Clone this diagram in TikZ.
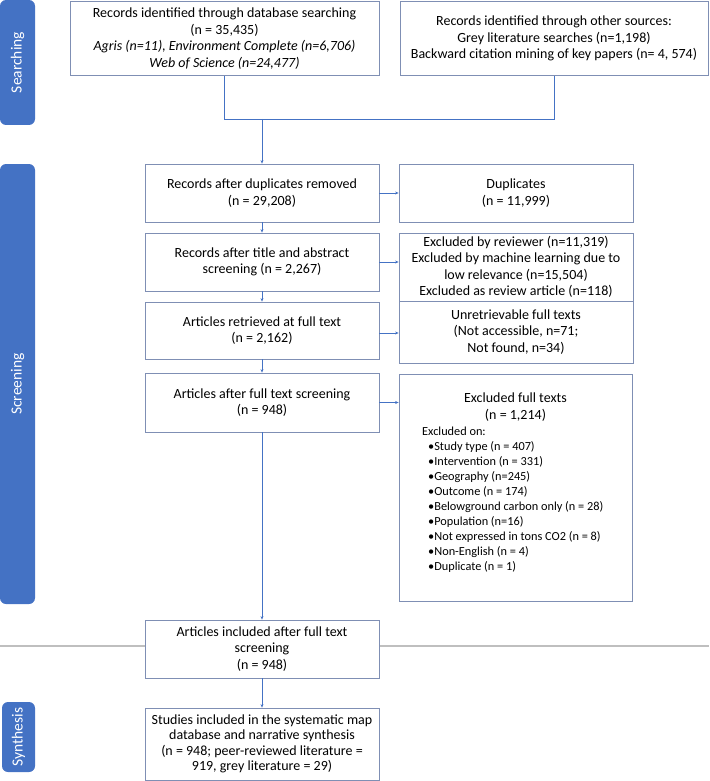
\documentclass[tikz,border=0pt]{standalone}
\usepackage{fontspec}
\setmainfont{Carlito}
\usetikzlibrary{arrows.meta}
\definecolor{boxc}{RGB}{127,143,180}
\definecolor{linec}{RGB}{68,114,196}
\definecolor{tabc}{RGB}{68,114,196}
\definecolor{sepc}{RGB}{191,191,191}
\begin{document}
\begin{tikzpicture}[x=1pt,y=-1pt,
  box/.style={draw=boxc, line width=0.8pt, fill=white, inner sep=0pt, align=center,
    font=\fontsize{14}{16.5}\selectfont},
  plain/.style={inner sep=0pt, align=center, font=\fontsize{14}{16.5}\selectfont},
  conn/.style={draw=linec, line width=0.6pt},
  arr/.style={conn, -{Stealth[length=3.5pt,width=3pt]}},
  tab/.style={fill=tabc, rounded corners=6pt, text=white, rotate=90, inner sep=0pt,
    font=\fontsize{15.5}{17}\selectfont}]
\useasboundingbox (0,0) rectangle (709,781);

% section separator
\coordinate (sepL) at (0,646);
\coordinate (sepR) at (709,646);
\draw[sepc, line width=2pt] (sepL) -- (sepR);

% tabs
\node[tab, minimum width=125pt, minimum height=35pt] (tabS) at (17.5,62.5) {Searching};
\node[tab, minimum width=440pt, minimum height=35pt] (tabR) at (17.5,384) {Screening};
\node[tab, minimum width=70pt, minimum height=33pt] (tabY) at (18.5,737) {Synthesis};

% searching boxes
\node[box, minimum width=309pt, minimum height=74pt] (s1) at (224.5,38.5)
  {Records identified through database searching\\(n = 35,435)\\
   \textit{Agris (n=11), Environment Complete (n=6,706)}\\
   \textit{Web of Science (n=24,477)}};
\node[box, minimum width=308pt, minimum height=74pt] (s2) at (554,38.5)
  {Records identified through other sources:\\Grey literature searches (n=1,198)\\
   Backward citation mining of key papers (n= 4, 574)};

% screening boxes
\node[box, minimum width=234pt, minimum height=58pt] (A) at (262,193)
  {Records after duplicates removed\\(n = 29,208)};
\node[box, minimum width=234pt, minimum height=58pt] (dup) at (516,193)
  {Duplicates\\(n = 11,999)};
\node[box, minimum width=234pt, minimum height=58pt] (B) at (262,262)
  {Records after title and abstract\\screening (n = 2,267)};
\node[box, minimum width=234pt, minimum height=68pt] (exc) at (516,267)
  {Excluded by reviewer (n=11,319)\\Excluded by machine learning due to\\
   low relevance (n=15,504)\\Excluded as review article (n=118)};
\node[box, minimum width=234pt, minimum height=57pt] (C) at (262,330.5)
  {Articles retrieved at full text\\(n = 2,162)};
\node[box, minimum width=234pt, minimum height=62pt] (unr) at (516,332)
  {Unretrievable full texts\\(Not accessible, n=71;\\Not found, n=34)};
\node[box, minimum width=234pt, minimum height=59pt] (D) at (262,402.5)
  {Articles after full text screening\\(n = 948)};
\node[box, minimum width=233pt, minimum height=227pt] (ft) at (515.5,487.5) {};
\node[plain] (ftt) at (515.5,407) {Excluded full texts\\(n = 1,214)};
\node[inner sep=0pt, anchor=north west, align=left,
      font=\fontsize{12.3}{15}\selectfont] (ftl) at (422,427)
  {Excluded on:\\
   \hspace*{6pt}•Study type (n = 407)\\
   \hspace*{6pt}•Intervention (n = 331)\\
   \hspace*{6pt}•Geography (n=245)\\
   \hspace*{6pt}•Outcome (n = 174)\\
   \hspace*{6pt}•Belowground carbon only (n = 28)\\
   \hspace*{6pt}•Population (n=16)\\
   \hspace*{6pt}•Not expressed in tons CO2 (n = 8)\\
   \hspace*{6pt}•Non-English (n = 4)\\
   \hspace*{6pt}•Duplicate (n = 1)};

% included / synthesis
\node[box, minimum width=234pt, minimum height=58pt] (inc) at (262,649)
  {Articles included after full text\\screening\\(n = 948)};
\node[box, minimum width=234pt, minimum height=72pt, font=\fontsize{14}{15.5}\selectfont] (syn) at (262,744)
  {Studies included in the systematic map\\database and narrative synthesis\\
   (n = 948; peer-reviewed literature =\\919, grey literature = 29)};

% merge of the two searches
\coordinate (j) at (262,119);
\draw[conn] (s1.south) -- (s1.south |- j) -- (s2.south |- j) -- (s2.south);
\draw[arr] (j) -- (A.north);

% main flow
\draw[arr] (A) -- (B);
\draw[arr] (B) -- (C);
\draw[arr] (C) -- (D);
\draw[arr] (D) -- (inc);
\draw[arr] (inc) -- (syn);

% exclusions
\draw[arr] (A.east) -- (A.east -| dup.west);
\draw[arr] (B.east) -- (B.east -| exc.west);
\draw[arr] ([yshift=-2.5pt]C.east) -- ([yshift=-2.5pt]C.east -| unr.west);
\draw[arr] (D.east) -- (D.east -| ft.west);
\end{tikzpicture}
\end{document}
